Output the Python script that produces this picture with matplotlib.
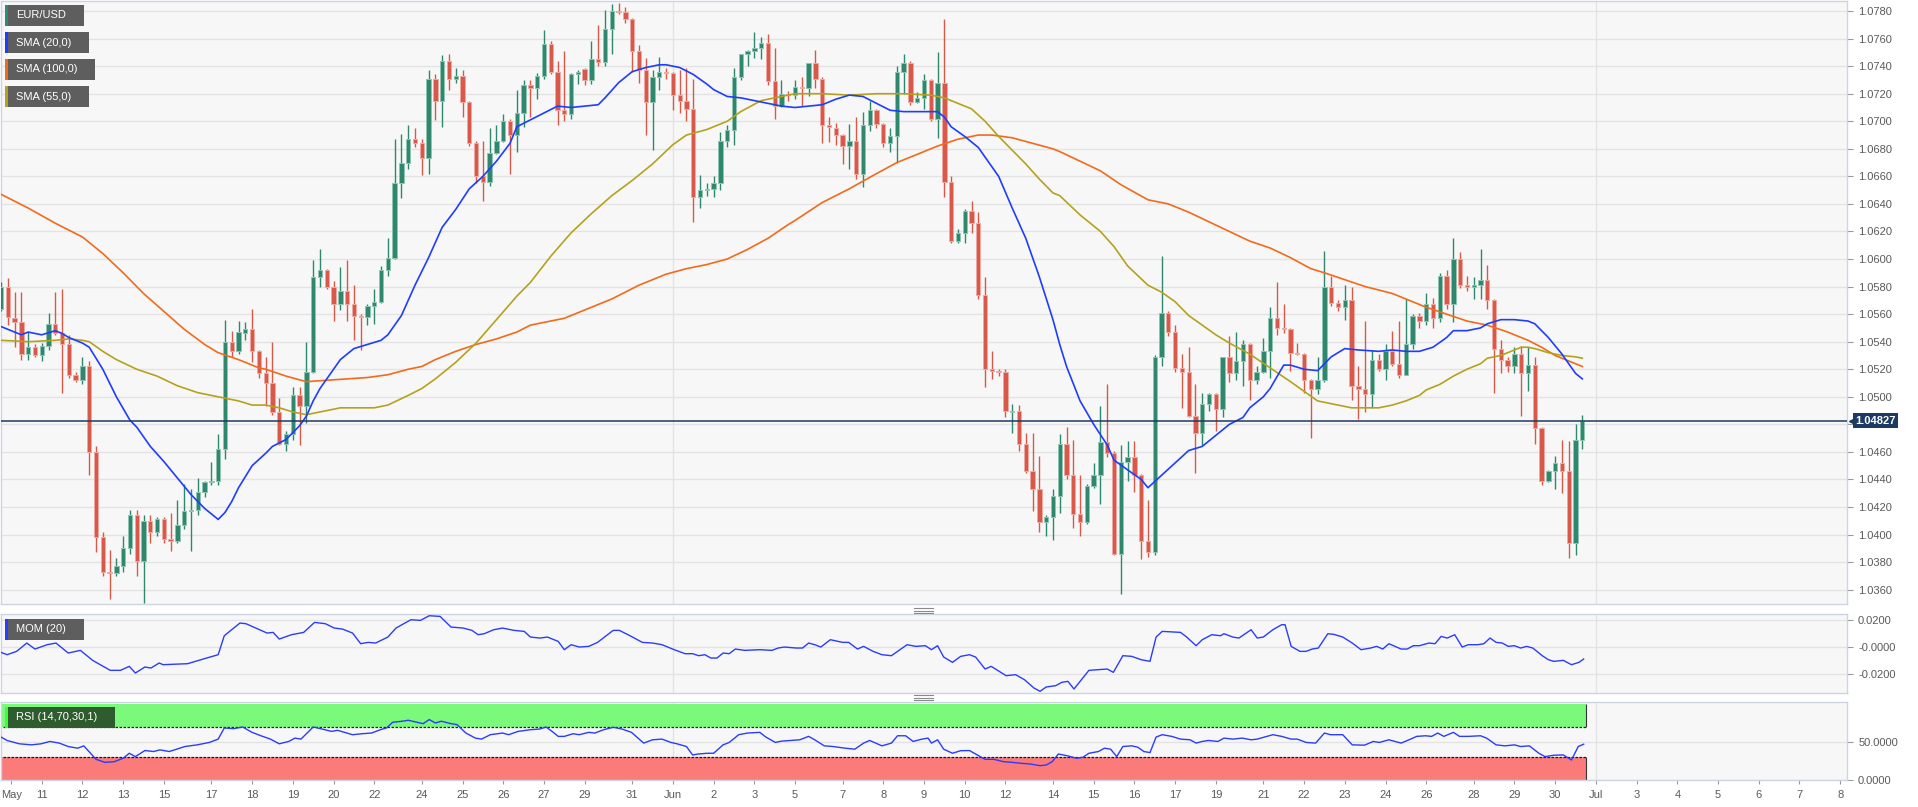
import numpy as np
import matplotlib
matplotlib.use("Agg")
import matplotlib.pyplot as plt
from matplotlib.patches import Rectangle
from matplotlib.lines import Line2D
from matplotlib.transforms import blended_transform_factory

plt.rcParams['font.family'] = ['Liberation Sans', 'DejaVu Sans']

# ---------------- data: EUR/USD 4h candles ----------------
opens = [1.0564, 1.0580, 1.0557, 1.0554, 1.0531, 1.0536, 1.0530, 1.0537, 1.0553, 1.0546,
         1.0538, 1.0516, 1.0512, 1.0522, 1.0460, 1.0398, 1.0373, 1.0372, 1.0377, 1.0390,
         1.0414, 1.0381, 1.0410, 1.0402, 1.0411, 1.0397, 1.0395, 1.0407, 1.0417, 1.0418,
         1.0431, 1.0438, 1.0439, 1.0462, 1.0540, 1.0533, 1.0546, 1.0549, 1.0533, 1.0517,
         1.0510, 1.0489, 1.0466, 1.0473, 1.0501, 1.0493, 1.0518, 1.0587, 1.0592, 1.0580,
         1.0567, 1.0577, 1.0567, 1.0559, 1.0558, 1.0566, 1.0569, 1.0592, 1.0601, 1.0655,
         1.0670, 1.0687, 1.0684, 1.0673, 1.0731, 1.0715, 1.0744, 1.0731, 1.0733, 1.0714,
         1.0684, 1.0660, 1.0656, 1.0677, 1.0686, 1.0700, 1.0690, 1.0706, 1.0726, 1.0724,
         1.0733, 1.0756, 1.0736, 1.0708, 1.0705, 1.0734, 1.0738, 1.0730, 1.0745, 1.0743,
         1.0767, 1.0780, 1.0779, 1.0774, 1.0751, 1.0737, 1.0714, 1.0732, 1.0736, 1.0735,
         1.0719, 1.0715, 1.0709, 1.0645, 1.0650, 1.0651, 1.0655, 1.0686, 1.0694, 1.0732,
         1.0749, 1.0751, 1.0753, 1.0757, 1.0729, 1.0711, 1.0720, 1.0719, 1.0725, 1.0724,
         1.0742, 1.0731, 1.0697, 1.0695, 1.0690, 1.0682, 1.0686, 1.0662, 1.0697, 1.0708,
         1.0698, 1.0684, 1.0689, 1.0736, 1.0742, 1.0714, 1.0717, 1.0730, 1.0702, 1.0728,
         1.0656, 1.0613, 1.0619, 1.0635, 1.0626, 1.0574, 1.0520, 1.0519, 1.0518, 1.0489,
         1.0490, 1.0466, 1.0446, 1.0433, 1.0409, 1.0413, 1.0428, 1.0466, 1.0443, 1.0415,
         1.0409, 1.0435, 1.0443, 1.0467, 1.0459, 1.0386, 1.0453, 1.0456, 1.0443, 1.0395,
         1.0387, 1.0529, 1.0561, 1.0547, 1.0521, 1.0518, 1.0486, 1.0474, 1.0495, 1.0502,
         1.0491, 1.0529, 1.0517, 1.0526, 1.0538, 1.0512, 1.0518, 1.0533, 1.0557, 1.0550,
         1.0549, 1.0532, 1.0531, 1.0512, 1.0506, 1.0512, 1.0580, 1.0568, 1.0565, 1.0570,
         1.0508, 1.0506, 1.0502, 1.0527, 1.0520, 1.0533, 1.0524, 1.0516, 1.0538, 1.0559,
         1.0555, 1.0567, 1.0557, 1.0588, 1.0567, 1.0600, 1.0581, 1.0580, 1.0581, 1.0585,
         1.0570, 1.0535, 1.0527, 1.0522, 1.0531, 1.0517, 1.0523, 1.0477, 1.0439, 1.0446,
         1.0452, 1.0446, 1.0394, 1.0469]
highs = [1.0583, 1.0586, 1.0576, 1.0576, 1.0547, 1.0538, 1.0539, 1.0561, 1.0576, 1.0578,
         1.0545, 1.0518, 1.0529, 1.0526, 1.0464, 1.0402, 1.0389, 1.0383, 1.0399, 1.0418,
         1.0418, 1.0414, 1.0414, 1.0413, 1.0413, 1.0416, 1.0425, 1.0437, 1.0433, 1.0441,
         1.0439, 1.0453, 1.0473, 1.0556, 1.0548, 1.0555, 1.0554, 1.0564, 1.0534, 1.0529,
         1.0540, 1.0499, 1.0475, 1.0507, 1.0507, 1.0540, 1.0599, 1.0607, 1.0593, 1.0584,
         1.0594, 1.0599, 1.0581, 1.0560, 1.0567, 1.0578, 1.0595, 1.0615, 1.0687, 1.0691,
         1.0697, 1.0695, 1.0687, 1.0737, 1.0734, 1.0748, 1.0749, 1.0739, 1.0737, 1.0715,
         1.0686, 1.0686, 1.0695, 1.0697, 1.0705, 1.0702, 1.0723, 1.0730, 1.0730, 1.0735,
         1.0766, 1.0758, 1.0744, 1.0751, 1.0735, 1.0737, 1.0739, 1.0758, 1.0770, 1.0781,
         1.0785, 1.0786, 1.0783, 1.0775, 1.0755, 1.0746, 1.0737, 1.0747, 1.0739, 1.0736,
         1.0737, 1.0739, 1.0731, 1.0661, 1.0655, 1.0660, 1.0692, 1.0697, 1.0739, 1.0749,
         1.0752, 1.0765, 1.0761, 1.0763, 1.0753, 1.0730, 1.0722, 1.0730, 1.0732, 1.0742,
         1.0752, 1.0732, 1.0703, 1.0699, 1.0691, 1.0698, 1.0703, 1.0707, 1.0715, 1.0709,
         1.0699, 1.0695, 1.0740, 1.0749, 1.0744, 1.0721, 1.0734, 1.0731, 1.0750, 1.0774,
         1.0660, 1.0622, 1.0636, 1.0642, 1.0634, 1.0587, 1.0533, 1.0520, 1.0520, 1.0495,
         1.0494, 1.0474, 1.0474, 1.0457, 1.0414, 1.0433, 1.0473, 1.0478, 1.0469, 1.0443,
         1.0437, 1.0452, 1.0493, 1.0509, 1.0461, 1.0465, 1.0468, 1.0468, 1.0444, 1.0425,
         1.0530, 1.0602, 1.0562, 1.0552, 1.0531, 1.0536, 1.0509, 1.0503, 1.0503, 1.0503,
         1.0529, 1.0544, 1.0547, 1.0541, 1.0539, 1.0522, 1.0543, 1.0565, 1.0583, 1.0567,
         1.0550, 1.0539, 1.0532, 1.0513, 1.0529, 1.0606, 1.0588, 1.0570, 1.0581, 1.0580,
         1.0522, 1.0555, 1.0534, 1.0531, 1.0538, 1.0548, 1.0555, 1.0571, 1.0560, 1.0561,
         1.0575, 1.0572, 1.0590, 1.0592, 1.0615, 1.0605, 1.0588, 1.0587, 1.0607, 1.0596,
         1.0571, 1.0541, 1.0529, 1.0536, 1.0537, 1.0536, 1.0529, 1.0478, 1.0447, 1.0457,
         1.0469, 1.0468, 1.0480, 1.0487]
lows = [1.0562, 1.0552, 1.0536, 1.0527, 1.0527, 1.0529, 1.0526, 1.0534, 1.0545, 1.0503,
        1.0514, 1.0511, 1.0509, 1.0443, 1.0387, 1.0370, 1.0353, 1.0370, 1.0373, 1.0386,
        1.0370, 1.0350, 1.0394, 1.0399, 1.0394, 1.0388, 1.0394, 1.0404, 1.0388, 1.0414,
        1.0427, 1.0436, 1.0436, 1.0455, 1.0529, 1.0531, 1.0541, 1.0525, 1.0514, 1.0493,
        1.0487, 1.0465, 1.0461, 1.0469, 1.0465, 1.0481, 1.0517, 1.0580, 1.0578, 1.0555,
        1.0563, 1.0555, 1.0541, 1.0534, 1.0552, 1.0553, 1.0568, 1.0588, 1.0600, 1.0644,
        1.0665, 1.0681, 1.0661, 1.0662, 1.0701, 1.0696, 1.0723, 1.0728, 1.0703, 1.0682,
        1.0655, 1.0642, 1.0653, 1.0676, 1.0685, 1.0662, 1.0678, 1.0696, 1.0703, 1.0716,
        1.0731, 1.0734, 1.0697, 1.0700, 1.0702, 1.0727, 1.0726, 1.0727, 1.0740, 1.0740,
        1.0749, 1.0778, 1.0771, 1.0736, 1.0728, 1.0690, 1.0679, 1.0723, 1.0731, 1.0708,
        1.0706, 1.0700, 1.0627, 1.0637, 1.0646, 1.0645, 1.0650, 1.0681, 1.0683, 1.0730,
        1.0740, 1.0746, 1.0745, 1.0726, 1.0702, 1.0710, 1.0715, 1.0716, 1.0711, 1.0718,
        1.0724, 1.0684, 1.0685, 1.0683, 1.0669, 1.0665, 1.0658, 1.0652, 1.0693, 1.0695,
        1.0681, 1.0678, 1.0670, 1.0720, 1.0712, 1.0713, 1.0709, 1.0700, 1.0688, 1.0645,
        1.0612, 1.0612, 1.0612, 1.0619, 1.0571, 1.0507, 1.0513, 1.0515, 1.0485, 1.0474,
        1.0461, 1.0445, 1.0417, 1.0402, 1.0399, 1.0396, 1.0416, 1.0440, 1.0405, 1.0399,
        1.0408, 1.0434, 1.0422, 1.0456, 1.0385, 1.0357, 1.0439, 1.0431, 1.0382, 1.0384,
        1.0385, 1.0522, 1.0544, 1.0518, 1.0492, 1.0485, 1.0445, 1.0465, 1.0490, 1.0475,
        1.0485, 1.0511, 1.0512, 1.0508, 1.0498, 1.0509, 1.0517, 1.0514, 1.0545, 1.0546,
        1.0519, 1.0530, 1.0503, 1.0470, 1.0502, 1.0511, 1.0566, 1.0562, 1.0556, 1.0498,
        1.0484, 1.0489, 1.0492, 1.0519, 1.0512, 1.0522, 1.0514, 1.0516, 1.0535, 1.0550,
        1.0552, 1.0550, 1.0554, 1.0564, 1.0554, 1.0579, 1.0577, 1.0571, 1.0571, 1.0564,
        1.0503, 1.0517, 1.0518, 1.0517, 1.0486, 1.0504, 1.0466, 1.0436, 1.0438, 1.0433,
        1.0430, 1.0383, 1.0385, 1.0462]
closes = [1.0580, 1.0558, 1.0554, 1.0531, 1.0536, 1.0530, 1.0537, 1.0553, 1.0546, 1.0538,
          1.0516, 1.0512, 1.0522, 1.0460, 1.0398, 1.0373, 1.0372, 1.0377, 1.0390, 1.0414,
          1.0381, 1.0410, 1.0402, 1.0411, 1.0397, 1.0395, 1.0407, 1.0417, 1.0418, 1.0431,
          1.0438, 1.0439, 1.0462, 1.0540, 1.0533, 1.0547, 1.0549, 1.0533, 1.0517, 1.0510,
          1.0489, 1.0466, 1.0473, 1.0501, 1.0493, 1.0518, 1.0587, 1.0592, 1.0580, 1.0567,
          1.0577, 1.0567, 1.0559, 1.0558, 1.0566, 1.0569, 1.0592, 1.0601, 1.0655, 1.0670,
          1.0687, 1.0684, 1.0673, 1.0731, 1.0715, 1.0744, 1.0731, 1.0733, 1.0714, 1.0684,
          1.0660, 1.0656, 1.0677, 1.0686, 1.0700, 1.0690, 1.0706, 1.0726, 1.0724, 1.0733,
          1.0756, 1.0736, 1.0708, 1.0705, 1.0734, 1.0736, 1.0730, 1.0745, 1.0743, 1.0767,
          1.0780, 1.0779, 1.0774, 1.0751, 1.0737, 1.0714, 1.0732, 1.0736, 1.0735, 1.0719,
          1.0715, 1.0709, 1.0645, 1.0650, 1.0651, 1.0655, 1.0686, 1.0694, 1.0732, 1.0749,
          1.0751, 1.0753, 1.0757, 1.0729, 1.0711, 1.0720, 1.0719, 1.0725, 1.0724, 1.0742,
          1.0731, 1.0697, 1.0696, 1.0690, 1.0682, 1.0686, 1.0662, 1.0697, 1.0708, 1.0698,
          1.0684, 1.0689, 1.0736, 1.0742, 1.0714, 1.0717, 1.0730, 1.0702, 1.0728, 1.0656,
          1.0613, 1.0619, 1.0635, 1.0626, 1.0574, 1.0520, 1.0519, 1.0518, 1.0490, 1.0490,
          1.0466, 1.0446, 1.0433, 1.0409, 1.0413, 1.0428, 1.0466, 1.0443, 1.0415, 1.0409,
          1.0435, 1.0443, 1.0467, 1.0459, 1.0386, 1.0453, 1.0456, 1.0443, 1.0395, 1.0387,
          1.0529, 1.0561, 1.0547, 1.0521, 1.0518, 1.0486, 1.0474, 1.0495, 1.0502, 1.0491,
          1.0529, 1.0517, 1.0526, 1.0538, 1.0512, 1.0518, 1.0533, 1.0557, 1.0550, 1.0549,
          1.0532, 1.0531, 1.0512, 1.0506, 1.0512, 1.0580, 1.0568, 1.0565, 1.0570, 1.0508,
          1.0506, 1.0502, 1.0527, 1.0520, 1.0533, 1.0524, 1.0516, 1.0538, 1.0559, 1.0555,
          1.0567, 1.0557, 1.0588, 1.0567, 1.0600, 1.0581, 1.0580, 1.0581, 1.0585, 1.0570,
          1.0535, 1.0527, 1.0522, 1.0531, 1.0517, 1.0523, 1.0477, 1.0439, 1.0446, 1.0452,
          1.0446, 1.0394, 1.0469, 1.04827]
last_price = 1.04827

# moving averages (candle index, value)
sma20_x = [0, 2, 3, 4, 6, 8, 9, 10, 12, 13, 15, 17, 19, 20, 22, 24, 26, 28, 30, 32,
           33, 34, 35, 37, 39, 40, 42, 44, 45, 46, 47, 48, 50, 52, 54, 56, 57, 59, 61, 63,
           65, 67, 69, 71, 73, 75, 76, 78, 80, 82, 84, 86, 88, 89, 91, 93, 95, 97, 98, 100,
           102, 104, 105, 107, 109, 111, 113, 115, 117, 119, 121, 123, 125, 127, 129, 131, 133, 135, 137, 138,
           139, 140, 142, 144, 145, 147, 149, 151, 153, 155, 156, 157, 159, 161, 163, 164, 166, 168, 169, 171,
           173, 175, 177, 179, 181, 183, 184, 186, 187, 189, 190, 192, 194, 195, 196, 198, 200, 203, 205, 207,
           209, 211, 213, 214, 216, 218, 219, 221, 223, 225, 226, 228, 230, 231, 232, 233]
sma20_y = [1.0551, 1.0547, 1.0545, 1.0547, 1.0545, 1.0548, 1.0546, 1.0543, 1.0539, 1.0536,
           1.0520, 1.0500, 1.0483, 1.0478, 1.0464, 1.0453, 1.0441, 1.0429, 1.0419, 1.0411,
           1.0416, 1.0424, 1.0434, 1.0450, 1.0459, 1.0464, 1.0469, 1.0479, 1.0486, 1.0497,
           1.0506, 1.0513, 1.0527, 1.0535, 1.0538, 1.0541, 1.0545, 1.0559, 1.0581, 1.0601,
           1.0623, 1.0636, 1.0651, 1.0660, 1.0671, 1.0684, 1.0696, 1.0701, 1.0706, 1.0711,
           1.0710, 1.0711, 1.0712, 1.0717, 1.0728, 1.0736, 1.0739, 1.0741, 1.0741, 1.0739,
           1.0734, 1.0727, 1.0723, 1.0718, 1.0717, 1.0715, 1.0713, 1.0711, 1.0710, 1.0711,
           1.0712, 1.0716, 1.0719, 1.0718, 1.0713, 1.0708, 1.0707, 1.0707, 1.0707, 1.0707,
           1.0703, 1.0696, 1.0689, 1.0681, 1.0674, 1.0660, 1.0637, 1.0615, 1.0587, 1.0556,
           1.0538, 1.0522, 1.0497, 1.0480, 1.0465, 1.0454, 1.0447, 1.0440, 1.0434, 1.0443,
           1.0452, 1.0461, 1.0464, 1.0472, 1.0480, 1.0485, 1.0492, 1.0500, 1.0506, 1.0523,
           1.0523, 1.0520, 1.0519, 1.0524, 1.0529, 1.0535, 1.0534, 1.0533, 1.0534, 1.0533,
           1.0533, 1.0536, 1.0543, 1.0548, 1.0548, 1.0550, 1.0553, 1.0556, 1.0556, 1.0555,
           1.0553, 1.0543, 1.0531, 1.0524, 1.0517, 1.0513]
sma55_x = [0, 4, 8, 10, 12, 13, 15, 17, 20, 23, 26, 29, 32, 35, 37, 39, 41, 43, 45, 47,
           50, 53, 55, 57, 60, 62, 64, 67, 70, 73, 76, 78, 81, 84, 87, 90, 93, 96, 99, 101,
           104, 107, 109, 112, 115, 117, 121, 125, 129, 133, 137, 139, 141, 143, 145, 147, 149, 151, 153, 155,
           156, 159, 162, 164, 166, 169, 171, 173, 175, 177, 179, 181, 184, 187, 190, 192, 194, 195, 197, 199,
           201, 203, 205, 207, 209, 210, 212, 214, 216, 218, 219, 221, 222, 223, 224, 225, 226, 228, 230, 232,
           233]
sma55_y = [1.0541, 1.0540, 1.0541, 1.0542, 1.0541, 1.0540, 1.0533, 1.0527, 1.0520, 1.0515,
           1.0508, 1.0503, 1.0500, 1.0497, 1.0494, 1.0494, 1.0492, 1.0489, 1.0487, 1.0489,
           1.0492, 1.0492, 1.0492, 1.0494, 1.0501, 1.0506, 1.0513, 1.0525, 1.0539, 1.0556,
           1.0573, 1.0583, 1.0602, 1.0619, 1.0633, 1.0646, 1.0657, 1.0669, 1.0683, 1.0690,
           1.0694, 1.0700, 1.0707, 1.0715, 1.0718, 1.0720, 1.0720, 1.0719, 1.0720, 1.0720,
           1.0719, 1.0717, 1.0713, 1.0709, 1.0700, 1.0689, 1.0679, 1.0669, 1.0658, 1.0648,
           1.0646, 1.0632, 1.0620, 1.0609, 1.0595, 1.0581, 1.0576, 1.0569, 1.0559, 1.0552,
           1.0545, 1.0539, 1.0531, 1.0521, 1.0511, 1.0504, 1.0497, 1.0496, 1.0494, 1.0492,
           1.0492, 1.0492, 1.0494, 1.0497, 1.0501, 1.0505, 1.0509, 1.0515, 1.0520, 1.0524,
           1.0528, 1.0530, 1.0532, 1.0534, 1.0536, 1.0536, 1.0535, 1.0532, 1.0530, 1.0529,
           1.0528]
sma100_x = [0, 4, 8, 12, 15, 18, 21, 24, 27, 30, 32, 35, 38, 39, 42, 45, 48, 51, 54, 57,
            60, 62, 64, 67, 70, 73, 76, 78, 83, 86, 90, 94, 98, 101, 104, 107, 110, 113, 116, 117,
            121, 125, 129, 132, 135, 138, 141, 144, 146, 149, 152, 155, 156, 159, 162, 165, 169, 172, 175, 178,
            181, 184, 187, 190, 193, 195, 198, 201, 205, 207, 210, 213, 216, 219, 222, 225, 227, 229, 231, 233]
sma100_y = [1.0647, 1.0637, 1.0626, 1.0616, 1.0604, 1.0590, 1.0575, 1.0562, 1.0549, 1.0538,
            1.0532, 1.0527, 1.0521, 1.0520, 1.0515, 1.0511, 1.0512, 1.0513, 1.0514, 1.0516,
            1.0520, 1.0522, 1.0527, 1.0533, 1.0538, 1.0542, 1.0547, 1.0552, 1.0557, 1.0563,
            1.0571, 1.0581, 1.0589, 1.0593, 1.0596, 1.0600, 1.0607, 1.0615, 1.0625, 1.0628,
            1.0641, 1.0651, 1.0662, 1.0670, 1.0676, 1.0682, 1.0687, 1.0690, 1.0690, 1.0688,
            1.0684, 1.0680, 1.0678, 1.0671, 1.0664, 1.0654, 1.0643, 1.0640, 1.0634, 1.0627,
            1.0620, 1.0613, 1.0608, 1.0601, 1.0593, 1.0590, 1.0585, 1.0580, 1.0575, 1.0571,
            1.0565, 1.0560, 1.0555, 1.0552, 1.0547, 1.0541, 1.0536, 1.0530, 1.0526, 1.0522]

# MOM (20) and RSI (14)
mom_x = [0, 0.9, 2.3, 3.8, 5.0, 6.8, 8.1, 9.9, 11.7, 13.5, 16.1, 17.6, 18.9, 19.8, 21.2, 22.1, 23.3, 23.9, 27.5, 29.8,
         32.0, 32.9, 35.2, 36.1, 39.2, 40.1, 41.0, 42.8, 44.6, 46.2, 47.8, 49.1, 50.3, 51.8, 53.0, 54.1, 55.2, 57.0, 58.2, 60.4,
         61.8, 63.1, 64.7, 66.3, 68.1, 69.4, 70.3, 71.2, 72.6, 73.9, 75.6, 77.1, 78.0, 79.4, 80.5, 82.1, 83.0, 84.0, 85.2, 86.6,
         87.9, 90.2, 91.1, 92.4, 94.5, 96.0, 97.4, 99.2, 100.8, 101.9, 102.8, 103.7, 104.6, 105.5, 106.4, 107.3, 108.2, 109.6, 111.8, 113.6,
         114.5, 115.4, 117.2, 118.1, 119.0, 119.9, 120.8, 122.2, 124.0, 124.9, 126.2, 127.1, 128.5, 129.8, 131.2, 132.6, 133.5, 134.8, 136.2, 137.1,
         138.0, 138.9, 140.2,
         141.4, 142.7, 143.6, 145.0, 145.9, 148.1, 149.5, 150.8, 152.2, 153.1, 154.0, 155.4, 156.3, 157.2, 158.1, 160.3, 161.7, 163.0, 163.9, 165.3,
         166.6, 168.0, 169.3, 170.2, 171.1, 173.8, 174.7, 176.1, 177.0, 178.4, 179.7, 180.2, 181.5, 182.4, 184.2, 185.1, 186.0, 187.4, 188.7, 189.2,
         190.1, 191.4, 192.3, 193.2, 194.1, 195.5, 196.4, 197.7, 199.1, 200.4, 201.8, 202.7, 203.6, 204.5, 206.3, 207.2, 208.1, 209.0, 210.4, 211.3,
         212.2, 213.1, 214.2, 215.3, 216.2, 217.6, 218.5, 219.4, 220.3, 221.2, 222.1, 223.0, 223.9, 224.8, 225.7, 227.1, 228.0, 228.8, 230.2, 231.4,
         232.5, 233.2]
mom_y = [-0.0040, -0.00575, -0.00325, 0.0030, -0.0015, 0.00175, 0.0030, -0.0045, -0.0025, -0.0100,
         -0.0175, -0.0175, -0.0145, -0.0195, -0.0150, -0.01575, -0.0120, -0.01325, -0.0125, -0.0090,
         -0.00575, 0.0085, 0.0180, 0.0175, 0.0105, 0.0110, 0.0060, 0.00925, 0.0110, 0.0185,
         0.0175, 0.01425, 0.0135, 0.0105, 0.0025, 0.0035, 0.0030, 0.0075, 0.01425, 0.0205,
         0.0200, 0.0235, 0.0230, 0.0150, 0.01425, 0.0125, 0.00925, 0.0100, 0.0130, 0.01425,
         0.0125, 0.01175, 0.0075, 0.00675, 0.0075, 0.00425, -0.0020, 0.00175, 0.0, 0.0005,
         0.0035, 0.0125, 0.0125, 0.00925, 0.0035, 0.0030, 0.00175, -0.0020, -0.0050, -0.0050,
         -0.0065, -0.00575, -0.00825, -0.00825, -0.0045, -0.0050, -0.0015, -0.0025, -0.0020, -0.0025,
         -0.00075, 0.0, -0.00075, -0.00075, 0.0030, 0.00175, 0.0, 0.0055, 0.0035, 0.0035,
         -0.0015, 0.0005, -0.00325, -0.00575, -0.0065, -0.0015, 0.00175, 0.0005, 0.0010, -0.0020,
         0.0010, -0.0075, -0.0115,
         -0.0070, -0.00575, -0.0075, -0.0165, -0.0145, -0.0215, -0.02075, -0.0245, -0.03075, -0.03325,
         -0.0300, -0.0290, -0.0265, -0.02575, -0.0315, -0.0175, -0.0170, -0.0165, -0.0190, -0.0065,
         -0.0070, -0.0095, -0.01075, 0.0075, 0.01175, 0.0110, 0.0075, 0.0010, 0.0055, 0.00925,
         0.0085, 0.0100, 0.0075, 0.00675, 0.0130, 0.00675, 0.0075, 0.0130, 0.01675, 0.01675,
         0.0005, -0.00325, -0.00325, -0.0015, -0.00075, 0.0100, 0.0095, 0.0075, 0.0030, -0.0020,
         -0.00075, 0.0005, -0.0015, 0.0025, -0.0015, -0.0015, 0.0010, 0.0010, 0.0030, 0.0025,
         0.0080, 0.00675, 0.00925, 0.0, 0.00175, 0.00175, 0.0025, 0.00675, 0.0035, 0.0030,
         0.0005, 0.0010, -0.00075, 0.0005, -0.00075, -0.0065, -0.0095, -0.01075, -0.0100, -0.01325,
         -0.0115, -0.0090]
rsi_x = [0, 0.9, 2.7, 4.5, 5.9, 7.2, 8.6, 9.9, 11.3, 12.2, 13.1, 14.0, 15.3, 16.7, 18.0, 18.9, 19.8, 21.2, 22.5, 23.4,
         24.8, 27.1, 28.9, 30.7, 32.0, 32.9, 34.3, 35.6, 37.0, 38.3, 39.7, 41.0, 42.4, 43.3, 44.2, 46.0, 47.3, 48.7, 49.6, 51.8,
         53.2, 54.6, 55.9, 56.8, 57.7, 59.1, 60.0, 61.3, 62.2, 63.1, 64.0, 64.9, 66.3, 67.2, 68.5, 69.9, 70.8, 72.1, 73.9, 74.8,
         76.2, 78.0, 79.4, 80.3, 81.2, 82.1, 83.0, 84.3, 85.2, 86.6, 87.5, 88.8, 90.2, 91.5, 92.9, 94.7, 96.0, 97.4, 98.7, 99.6,
         101.0, 101.9, 102.8, 104.1, 105.0, 106.4, 107.3, 108.7, 110.0, 111.8, 112.7, 114.1, 115.0, 116.3, 117.7, 119.0, 119.9, 121.3, 122.6, 124.4,
         125.8, 127.1, 128.0, 129.8, 131.2, 132.1, 133.3, 134.4, 135.7, 136.6, 137.1, 138.0, 138.9, 140.2,
         141.4, 142.7, 143.6, 145.0, 146.3, 147.7, 149.0, 150.4, 151.7, 153.1, 154.0, 154.9, 155.8, 157.2, 158.5, 159.4, 160.3, 161.7, 162.6, 163.5,
         164.4, 165.3, 166.6, 167.5, 168.4, 169.3, 170.2, 171.1, 172.5, 173.8, 175.2, 176.1, 177.0, 177.9, 179.3, 180.2, 181.5, 182.9, 184.2, 185.1,
         186.5, 187.4, 188.7, 190.1, 191.0, 192.3, 193.7, 195.0, 195.9, 197.7, 199.1, 200.9, 202.2, 203.1, 204.5, 206.3, 207.7, 208.6, 209.9, 210.8,
         211.7, 212.6, 214.0, 214.9, 216.2, 218.0, 218.9, 220.3, 221.6, 223.0, 223.9, 225.2, 226.6, 227.5, 228.8, 230.2, 231.4, 232.4, 233.2]
rsi_y = [56.7, 52.2, 47.8, 46.4, 47.8, 50.9, 48.7, 44.2, 42.0, 45.1, 36.2, 27.3, 23.3, 24.2, 28.7, 35.3, 30.9, 38.9, 37.6, 39.8,
         37.6, 44.2, 46.4, 49.6, 54.0, 68.7, 67.8, 70.0, 62.9, 58.4, 54.0, 47.8, 50.9, 55.3, 54.0, 70.0, 67.3, 64.2, 65.6, 59.8,
         61.1, 62.0, 66.4, 68.7, 76.2, 77.6, 78.9, 76.2, 74.4, 79.8, 75.3, 77.6, 74.4, 73.1, 62.0, 55.3, 54.0, 59.8, 62.0, 59.8,
         64.2, 66.4, 67.3, 70.0, 64.2, 57.6, 57.6, 61.1, 59.8, 62.9, 62.0, 66.4, 69.6, 67.3, 62.9, 48.7, 53.1, 54.0, 49.6, 47.8,
         44.2, 33.1, 34.4, 35.3, 35.3, 46.4, 49.6, 59.8, 62.0, 62.9, 56.7, 49.6, 51.3, 52.2, 53.1, 57.6, 53.1, 45.1, 44.2, 42.0,
         40.7, 48.7, 52.2, 45.1, 48.7, 58.4, 58.4, 50.9, 54.0, 55.3, 48.7, 53.1, 40.7, 35.3,
         38.7, 38.9, 34.4, 27.3, 27.3, 24.2, 23.3, 22.0, 21.1, 18.9, 19.8, 24.2, 34.4, 31.8, 28.7, 30.0, 35.3, 37.6, 42.0, 40.7,
         30.9, 44.2, 45.1, 43.3, 37.6, 36.2, 56.7, 59.8, 57.6, 54.0, 53.1, 48.7, 50.9, 52.2, 50.9, 55.3, 54.0, 55.3, 53.1, 54.0,
         57.6, 59.8, 57.6, 54.0, 54.0, 49.6, 48.7, 62.0, 59.8, 59.8, 46.4, 46.0, 50.9, 49.6, 53.1, 48.7, 54.0, 57.6, 58.4, 57.6,
         62.0, 57.6, 62.9, 57.6, 57.6, 58.4, 55.3, 46.4, 45.1, 46.4, 44.2, 45.1, 35.3, 30.9, 32.7, 33.1, 26.4, 44.2, 47.3]

# date axis
day_ticks = [1.5, 6, 12, 18, 24, 31, 37, 43, 49, 55, 62, 68, 74, 80, 86, 93,
             99, 105, 111, 117, 124, 130, 136, 142, 148, 155, 161, 167, 173, 179, 186, 192,
             198, 204, 210, 217, 223, 229, 235, 241, 247, 253, 259, 265, 271]
day_labels = ['May', '11', '12', '13', '15', '17', '18', '19', '20', '22', '24', '25', '26', '27', '29', '31',
              'Jun', '2', '3', '5', '7', '8', '9', '10', '12', '14', '15', '16', '17', '19', '21', '22',
              '23', '24', '26', '28', '29', '30', 'Jul', '3', '4', '5', '6', '7', '8']
month_starts = [99, 235]

# ---------------- figure ----------------
W, H = 1918, 807
RIGHT = 1847
fig = plt.figure(figsize=(W / 100, H / 100), dpi=100)
fig.patch.set_facecolor('white')


def px_box(x0, y0, x1, y1):
    return [x0 / W, 1 - y1 / H, (x1 - x0) / W, (y1 - y0) / H]


ax = fig.add_axes(px_box(1, 1, RIGHT, 604))
ax_mom = fig.add_axes(px_box(1, 614, RIGHT, 693))
ax_rsi = fig.add_axes(px_box(1, 702, RIGHT, 780))

BG = '#f7f7f7'
GRID = '#e3e3e3'
SPINE = '#cdd4e4'
TXT = '#5a5a5a'
GREEN = '#2f876d'
RED = '#d8594a'
XMAX = 272.0

for a in (ax, ax_mom, ax_rsi):
    a.set_facecolor(BG)
    a.set_xlim(0, XMAX)
    for s in a.spines.values():
        s.set_color(SPINE)
        s.set_linewidth(1)
    a.yaxis.tick_right()
    a.tick_params(axis='y', length=4, width=0.8, color='#9a9a9a', labelcolor=TXT, labelsize=8, pad=4)
    a.grid(axis='y', color=GRID, lw=1)
    a.set_axisbelow(True)
    for m in month_starts:
        a.axvline(m, color=GRID, lw=1, zorder=0.5)

# candles
x = np.arange(len(closes))
o = np.array(opens)
h = np.array(highs)
l = np.array(lows)
c = np.array(closes)
up = c >= o
col = np.where(up, GREEN, RED)
edge = np.where(up, '#8fc4b3', '#eeaaa2')
ax.vlines(x, l, h, colors=col, lw=1, zorder=3)
ax.bar(x, np.maximum(np.abs(c - o), 0.00005), bottom=np.minimum(o, c), width=0.64,
       color=col, edgecolor=edge, linewidth=0.7, zorder=3)

ax.plot(sma100_x, sma100_y, color='#f26a1b', lw=1.2, zorder=4)
ax.plot(sma55_x, sma55_y, color='#b5a21c', lw=1.2, zorder=4)
ax.plot(sma20_x, sma20_y, color='#1f3dff', lw=1.2, zorder=4)

# last price line and tag
ax.axhline(last_price, color='#1f3a60', lw=1.1, zorder=5)
trans = blended_transform_factory(ax.transAxes, ax.transData)
ax.text(1.0045, last_price, f'{last_price:.5f}', transform=trans, ha='left', va='center',
        fontsize=8, fontweight='bold', color='white', clip_on=False, zorder=10,
        bbox=dict(boxstyle='square,pad=0.2', fc='#1d3a63', ec='none'))
ax.plot([1.0028], [last_price], marker='<', ms=4, color='#1d3a63', transform=trans,
        clip_on=False, zorder=10)

yt = np.round(np.arange(1.036, 1.0781, 0.002), 4)
ax.set_yticks(yt)
# the 1.0480 label sits under the last-price tag
ax.set_yticklabels(['' if abs(v - 1.048) < 1e-6 else f'{v:.4f}' for v in yt])
ax.set_ylim(1.03496, 1.07873)
ax.tick_params(axis='x', bottom=False, labelbottom=False)

# MOM panel
ax_mom.plot(mom_x, mom_y, color='#2a3cff', lw=1, zorder=3)
ax_mom.set_ylim(-0.0345, 0.0248)
ax_mom.set_yticks([-0.02, 0.0, 0.02])
ax_mom.set_yticklabels(['-0.0200', '-0.0000', '0.0200'])
ax_mom.tick_params(axis='x', bottom=False, labelbottom=False)

# RSI panel
zone_end = len(closes) - 0.5
ax_rsi.add_patch(Rectangle((-1, 70), zone_end + 1, 30, fc='#7af97a', ec='none', zorder=1))
ax_rsi.add_patch(Rectangle((-1, 0), zone_end + 1, 30, fc='#fb7b7b', ec='none', zorder=1))
ax_rsi.hlines([30, 70], -1, zone_end, colors='#1a1a1a', lw=0.9, linestyles=(0, (2, 1.2)), zorder=2)
ax_rsi.vlines([zone_end, zone_end], [0, 70], [30, 100], colors='#333333', lw=0.8, zorder=2)
ax_rsi.plot(rsi_x, rsi_y, color='#2a3cff', lw=1, zorder=3)
ax_rsi.set_ylim(0, 103)
ax_rsi.set_yticks([0, 50])
ax_rsi.set_yticklabels(['0.0000', '50.0000'])
ax_rsi.set_xticks(day_ticks)
ax_rsi.set_xticklabels(day_labels)
ax_rsi.tick_params(axis='x', length=3, color='#9a9a9a', labelcolor=TXT, labelsize=8, pad=4)


# indicator tags
def tag(x0, y0, x1, y1, text, strip, bg='#5e5e5e'):
    fig.add_artist(Rectangle((x0 / W, 1 - y1 / H), (x1 - x0) / W, (y1 - y0) / H,
                             transform=fig.transFigure, fc=bg, ec='none', zorder=20))
    fig.add_artist(Rectangle((x0 / W, 1 - y1 / H), 2.5 / W, (y1 - y0) / H,
                             transform=fig.transFigure, fc=strip, ec='none', zorder=21))
    fig.text((x0 + 11) / W, 1 - (y0 + y1) / 2 / H, text, color='white', fontsize=8,
             va='center', ha='left', zorder=22)


tag(5, 5, 84, 26, 'EUR/USD', '#2e8b74')
tag(5, 32, 89, 53, 'SMA (20,0)', '#1f3dff')
tag(5, 59, 95, 80, 'SMA (100,0)', '#f26a1b')
tag(5, 86, 89, 107, 'SMA (55,0)', '#b3a21b')
tag(5, 619, 84, 640, 'MOM (20)', '#2a3cff')
tag(5, 707, 115, 728, 'RSI (14,70,30,1)', '#3cff3c', bg='#2f5c2f')

# panel resize handles
for yy in (608, 610.5, 613, 695, 697.5, 700):
    fig.add_artist(Line2D([914 / W, 933 / W], [1 - yy / H] * 2, color='#8a8a8a', lw=0.8))

fig.savefig('out.png', dpi=100, facecolor='white')
